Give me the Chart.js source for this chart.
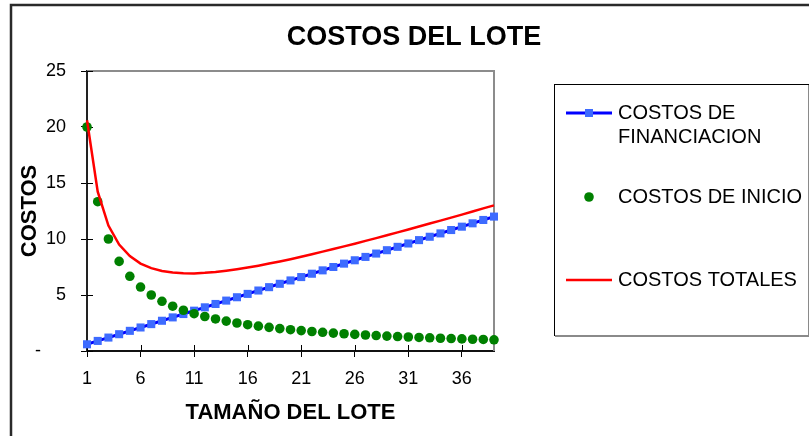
<!DOCTYPE html>
<html>
<head>
<meta charset="utf-8">
<script src="https://cdn.jsdelivr.net/npm/chart.js@4/dist/chart.umd.min.js"></script>
<style>
  html, body { margin: 0; padding: 0; background: #fff; }
  #wrap { position: relative; width: 809px; height: 436px; }
  canvas { display: block; }
</style>
</head>
<body>
<div id="wrap"><canvas id="c" width="809" height="436"></canvas></div>
<script>
// Lot-size categories shown on the x axis
const categories = ['1','2','3','4','5','6','7','8','9','10','11','12','13','14','15','16','17','18','19','20',
  '21','22','23','24','25','26','27','28','29','30','31','32','33','34','35','36','37','38','39'];

// Financing cost per lot
const costosFinanciacion = [0.6, 0.9, 1.2, 1.5, 1.8, 2.1, 2.4, 2.7, 3.0, 3.3, 3.6, 3.9, 4.2, 4.5, 4.8, 5.1, 5.4, 5.7, 6.0, 6.3,
  6.6, 6.9, 7.2, 7.5, 7.8, 8.1, 8.4, 8.7, 9.0, 9.3, 9.6, 9.9, 10.2, 10.5, 10.8, 11.1, 11.4, 11.7, 12.0];

// Start-up cost per lot
const costosInicio = [20, 13.33, 10, 8, 6.67, 5.71, 5, 4.44, 4, 3.64, 3.33, 3.08, 2.86, 2.67, 2.5, 2.35, 2.22, 2.11, 2, 1.9,
  1.82, 1.74, 1.67, 1.6, 1.54, 1.48, 1.43, 1.38, 1.33, 1.29, 1.25, 1.21, 1.18, 1.14, 1.11, 1.08, 1.05, 1.03, 1.0];

// Total cost per lot
const costosTotales = [20.6, 14.23, 11.2, 9.5, 8.47, 7.81, 7.4, 7.14, 7.0, 6.94, 6.93, 6.98, 7.06, 7.17, 7.3, 7.45, 7.62, 7.81, 8.0, 8.2,
  8.42, 8.64, 8.87, 9.1, 9.34, 9.58, 9.83, 10.08, 10.33, 10.59, 10.85, 11.11, 11.38, 11.64, 11.91, 12.18, 12.45, 12.73, 13.0];

// Value-axis ticks and the every-fifth category labels
const yTicks = [0, 5, 10, 15, 20, 25];
const xLabelStep = 5;

const chartTitle = 'COSTOS DEL LOTE';
const xTitle = 'TAMAÑO DEL LOTE';
const yTitle = 'COSTOS';
const seriesNames = ['COSTOS DE FINANCIACION', 'COSTOS DE INICIO', 'COSTOS TOTALES'];

const FONT = "'Liberation Sans', Arial, sans-serif";

// Plot geometry
const PLOT_LEFT = 87, PLOT_TOP = 71, PLOT_RIGHT = 494, PLOT_BOTTOM = 351;

function wrapText(ctx, text, maxWidth) {
  const words = text.split(' ');
  const lines = [];
  let cur = '';
  for (const w of words) {
    const test = cur ? cur + ' ' + w : w;
    if (cur && ctx.measureText(test).width > maxWidth) {
      lines.push(cur);
      cur = w;
    } else {
      cur = test;
    }
  }
  if (cur) lines.push(cur);
  return lines;
}

const decorations = {
  id: 'decorations',
  beforeDraw(chart) {
    const ctx = chart.ctx;
    ctx.save();
    ctx.fillStyle = '#fff';
    ctx.fillRect(0, 0, chart.width, chart.height);
    // outer chart frame
    ctx.strokeStyle = '#2a2a2a';
    ctx.lineWidth = 2.5;
    ctx.strokeRect(11, 5, chart.width + 40, chart.height + 40);
    ctx.restore();
  },
  beforeDatasetsDraw(chart) {
    const ctx = chart.ctx;
    const a = chart.chartArea;
    ctx.save();
    // top and right edges of the plot area
    ctx.strokeStyle = '#8c8c8c';
    ctx.lineWidth = 2;
    ctx.beginPath();
    ctx.moveTo(a.left, a.top);
    ctx.lineTo(a.right, a.top);
    ctx.lineTo(a.right, a.bottom);
    ctx.stroke();
    // inner half of the crossing tick marks
    ctx.strokeStyle = '#000';
    ctx.lineWidth = 1;
    const xs = chart.scales.x, ys = chart.scales.y;
    xs.ticks.forEach((t, i) => {
      if (i % xLabelStep !== 0) return;
      const px = Math.round(xs.getPixelForTick(i)) + 0.5;
      ctx.beginPath();
      ctx.moveTo(px, a.bottom);
      ctx.lineTo(px, a.bottom - 6);
      ctx.stroke();
    });
    ys.ticks.forEach((t) => {
      const py = Math.round(ys.getPixelForValue(t.value)) + 0.5;
      ctx.beginPath();
      ctx.moveTo(a.left, py);
      ctx.lineTo(a.left + 6, py);
      ctx.stroke();
    });
    ctx.restore();
  },
  afterDraw(chart) {
    const ctx = chart.ctx;
    const a = chart.chartArea;
    ctx.save();
    ctx.fillStyle = '#000';
    ctx.textAlign = 'center';
    ctx.textBaseline = 'middle';

    // chart title
    ctx.font = 'bold 27px ' + FONT;
    ctx.fillText(chartTitle, 414, 38);

    // axis titles
    ctx.font = 'bold 22px ' + FONT;
    ctx.fillText(xTitle, (a.left + a.right) / 2, 413);
    ctx.save();
    ctx.translate(30, (a.top + a.bottom) / 2);
    ctx.rotate(-Math.PI / 2);
    ctx.fillText(yTitle, 0, 0);
    ctx.restore();

    // legend box
    const bx = 554, by = 84, bw = 254, bh = 251;
    ctx.fillStyle = '#fff';
    ctx.fillRect(bx, by, bw, bh);
    ctx.strokeStyle = '#000';
    ctx.lineWidth = 1;
    ctx.strokeRect(bx + 0.5, by + 0.5, bw, bh);
    ctx.strokeStyle = '#8a8a8a';
    ctx.lineWidth = 2;
    ctx.beginPath();
    ctx.moveTo(bx + 1, by + bh + 1);
    ctx.lineTo(bx + bw + 1, by + bh + 1);
    ctx.lineTo(bx + bw + 1, by + 1);
    ctx.stroke();

    const itemY = [113, 197, 280];
    const sx0 = 566, sx1 = 612, sxc = 589, tx = 618;
    ctx.font = '20px ' + FONT;
    ctx.textAlign = 'left';
    chart.data.datasets.forEach((ds, i) => {
      const y = itemY[i];
      if (ds.showLine !== false) {
        ctx.strokeStyle = ds.borderColor;
        ctx.lineWidth = ds.borderWidth;
        ctx.beginPath();
        ctx.moveTo(sx0, y);
        ctx.lineTo(sx1, y);
        ctx.stroke();
      }
      if (ds.pointRadius > 0) {
        ctx.fillStyle = ds.pointBackgroundColor;
        ctx.beginPath();
        if (ds.pointStyle === 'rect') {
          const s = Math.SQRT1_2 * ds.pointRadius;
          ctx.rect(sxc - s, y - s, 2 * s, 2 * s);
        } else {
          ctx.arc(sxc, y, ds.pointRadius, 0, Math.PI * 2);
        }
        ctx.fill();
      }
      ctx.fillStyle = '#000';
      const lines = wrapText(ctx, ds.label, 186);
      lines.forEach((ln, k) => ctx.fillText(ln, tx, y + k * 24));
    });
    ctx.restore();
  }
};

new Chart(document.getElementById('c'), {
  type: 'line',
  data: {
    labels: categories,
    datasets: [
      {
        label: seriesNames[0],
        data: costosFinanciacion,
        borderColor: '#0000ff',
        borderWidth: 3,
        pointStyle: 'rect',
        pointRadius: 5.7,
        pointBackgroundColor: '#3d6bff',
        pointBorderWidth: 0,
        tension: 0,
        clip: false,
        order: 2
      },
      {
        label: seriesNames[1],
        data: costosInicio,
        showLine: false,
        borderColor: '#008000',
        borderWidth: 0,
        pointStyle: 'circle',
        pointRadius: 4.8,
        pointBackgroundColor: '#008000',
        pointBorderWidth: 0,
        clip: false,
        order: 1
      },
      {
        label: seriesNames[2],
        data: costosTotales,
        borderColor: '#ff0000',
        borderWidth: 2.5,
        pointRadius: 0,
        tension: 0,
        clip: false,
        order: 0
      }
    ]
  },
  options: {
    responsive: false,
    animation: false,
    events: [],
    layout: { padding: { left: 0, top: PLOT_TOP, right: 809 - PLOT_RIGHT, bottom: 0 } },
    plugins: {
      legend: { display: false },
      title: { display: false },
      tooltip: { enabled: false }
    },
    scales: {
      x: {
        type: 'category',
        offset: false,
        grid: {
          display: true,
          drawOnChartArea: false,
          drawTicks: true,
          tickLength: 6,
          tickWidth: 1,
          tickColor: (c) => (c.index % xLabelStep === 0 ? '#000' : 'rgba(0,0,0,0)')
        },
        border: { display: true, color: '#111', width: 2 },
        ticks: {
          autoSkip: false,
          maxRotation: 0,
          minRotation: 0,
          padding: 11,
          color: '#000',
          font: { family: FONT, size: 18 },
          callback: (v, i) => (i % xLabelStep === 0 ? categories[i] : '')
        },
        afterFit: (s) => { s.height = 436 - PLOT_BOTTOM; }
      },
      y: {
        min: 0,
        max: 25,
        afterBuildTicks: (s) => { s.ticks = yTicks.map((v) => ({ value: v })); },
        grid: {
          display: true,
          drawOnChartArea: false,
          drawTicks: true,
          tickLength: 6,
          tickWidth: 1,
          tickColor: '#000'
        },
        border: { display: true, color: '#222', width: 2 },
        ticks: {
          padding: 15,
          color: '#000',
          font: { family: FONT, size: 18 },
          callback: (v) => (v === 0 ? '-     ' : String(v))
        },
        afterFit: (s) => { s.width = PLOT_LEFT; }
      }
    }
  },
  plugins: [decorations]
});
</script>
</body>
</html>
